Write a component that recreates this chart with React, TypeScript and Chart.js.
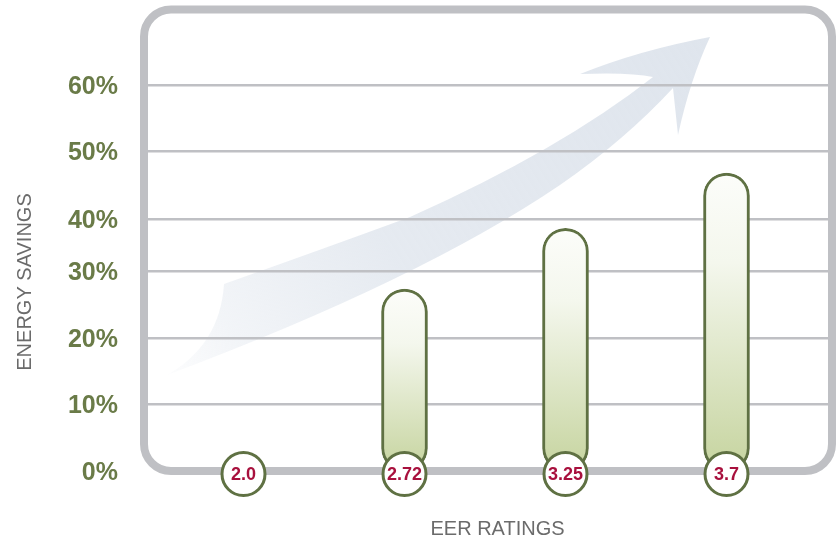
import React, { useEffect, useRef } from 'react';
import { Chart, registerables } from 'chart.js';

Chart.register(...registerables);

const categories = ['2.0', '2.72', '3.25', '3.7'];
const savings = [0, 27.3, 36.4, 44.7];
const tickValues = [0, 10, 20, 30, 37.8, 48, 57.9];
const tickLabels = ['0%', '10%', '20%', '30%', '40%', '50%', '60%'];
const xTitle = 'EER RATINGS';
const yTitle = 'ENERGY SAVINGS';

const FRAME = '#bfc0c4';
const OLIVE = '#5f7143';
const LABEL_GREEN = '#6a7b48';
const RED = '#a8103d';
const GRAY_TEXT = '#6b6b6b';
const FONT = '"Liberation Sans", Arial, sans-serif';

const decor = {
  id: 'decor',
  beforeDatasetsDraw(chart: any) {
    const { ctx, chartArea: ca, scales } = chart;
    const ys = scales.y;
    const P = (x: number, y: number): [number, number] => [ca.left + x, ca.top + y];
    ctx.save();
    // decorative arrow
    const a0 = P(4, 364);
    const a1 = P(547, 26);
    const grad = ctx.createLinearGradient(a0[0], a0[1], a1[0], a1[1]);
    grad.addColorStop(0, 'rgba(223,229,237,0.08)');
    grad.addColorStop(0.12, 'rgba(223,229,237,0.4)');
    grad.addColorStop(0.4, 'rgba(223,229,237,0.8)');
    grad.addColorStop(1, 'rgba(223,229,237,1)');
    ctx.fillStyle = grad;
    ctx.beginPath();
    ctx.moveTo(...a0);
    ctx.quadraticCurveTo(...P(257, 269), ...P(397, 174));
    ctx.quadraticCurveTo(...P(462, 129), ...P(510, 77));
    ctx.lineTo(...P(515, 124));
    ctx.quadraticCurveTo(...P(527, 69), ...P(547, 26));
    ctx.quadraticCurveTo(...P(477, 39), ...P(417, 63));
    ctx.quadraticCurveTo(...P(467, 61), ...P(490, 66));
    ctx.quadraticCurveTo(...P(397, 139), ...P(247, 206));
    ctx.quadraticCurveTo(...P(157, 239), ...P(61, 273));
    ctx.quadraticCurveTo(...P(57, 334), ...a0);
    ctx.closePath();
    ctx.fill();

    const fl = ca.left - 19;
    const fr = ca.right + 25;
    // grid lines
    ctx.strokeStyle = FRAME;
    ctx.lineWidth = 2.5;
    tickValues.forEach((v) => {
      if (v === 0) return;
      const y = Math.round(ys.getPixelForValue(v)) + 0.25;
      ctx.beginPath();
      ctx.moveTo(fl, y);
      ctx.lineTo(fr, y);
      ctx.stroke();
    });
    // frame
    ctx.lineWidth = 8;
    ctx.beginPath();
    const ft = ca.top - 1.5;
    const fb = ys.getPixelForValue(0);
    (ctx as any).roundRect(fl, ft, fr - fl, fb - ft, 27);
    ctx.stroke();
    ctx.restore();
  },
  afterDatasetsDraw(chart: any) {
    const { ctx, chartArea: ca, scales } = chart;
    const xs = scales.x;
    const ys = scales.y;
    ctx.save();
    const cy = ys.getPixelForValue(0) + 3;
    categories.forEach((c, i) => {
      const cx = xs.getPixelForValue(i);
      ctx.beginPath();
      ctx.arc(cx, cy, 21.5, 0, Math.PI * 2);
      ctx.fillStyle = '#ffffff';
      ctx.fill();
      ctx.lineWidth = 3;
      ctx.strokeStyle = OLIVE;
      ctx.stroke();
      ctx.fillStyle = RED;
      ctx.font = `bold 18px ${FONT}`;
      ctx.textAlign = 'center';
      ctx.textBaseline = 'middle';
      ctx.fillText(c, cx, cy + 1);
    });
    // axis titles
    ctx.fillStyle = GRAY_TEXT;
    ctx.font = `20px ${FONT}`;
    ctx.textAlign = 'center';
    ctx.textBaseline = 'middle';
    ctx.fillText(xTitle, ca.left + 334.5, ca.bottom + 58.5);
    ctx.save();
    ctx.translate(ca.left - 138, ca.top + 271);
    ctx.rotate(-Math.PI / 2);
    ctx.font = `20px ${FONT}`;
    ctx.fillText(yTitle, 0, 0);
    ctx.restore();
    ctx.restore();
  },
};

export default function App() {
  const ref = useRef<HTMLCanvasElement | null>(null);
  useEffect(() => {
    if (!ref.current) return;
    const chart = new Chart(ref.current, {
      type: 'bar',
      data: {
        labels: categories,
        datasets: [
          {
            data: savings,
            backgroundColor: (c: any) => {
              const ch = c.chart;
              const ca = ch.chartArea;
              if (!ca || c.type !== 'data') return '#e5ecd6';
              const ys = ch.scales.y;
              const top = ys.getPixelForValue(savings[c.dataIndex]);
              const bottom = ys.getPixelForValue(0);
              if (bottom - top < 1) return '#ffffff';
              const g = ch.ctx.createLinearGradient(0, top, 0, bottom);
              g.addColorStop(0, '#fcfdfa');
              g.addColorStop(0.3, '#f4f7ed');
              g.addColorStop(1, '#c6d49f');
              return g;
            },
            borderColor: OLIVE,
            borderWidth: 3,
            borderRadius: 23,
            borderSkipped: false,
            barThickness: 46,
          },
        ],
      },
      options: {
        animation: false,
        responsive: true,
        maintainAspectRatio: false,
        events: [],
        layout: { padding: { top: 11, right: 30, left: 0, bottom: 0 } },
        plugins: { legend: { display: false }, tooltip: { enabled: false } },
        scales: {
          x: {
            grid: { display: false },
            border: { display: false },
            ticks: { display: false },
            afterFit: (s: any) => {
              s.height = 72;
              s.paddingLeft = 0;
              s.paddingRight = 0;
            },
          },
          y: {
            min: 0,
            max: 69,
            grid: { display: false },
            border: { display: false },
            afterBuildTicks: (s: any) => {
              s.ticks = tickValues.map((v) => ({ value: v }));
            },
            afterFit: (s: any) => {
              s.width = 163;
              s.paddingTop = 0;
              s.paddingBottom = 0;
            },
            ticks: {
              autoSkip: false,
              padding: 37,
              labelOffset: 2,
              color: LABEL_GREEN,
              font: { family: FONT, size: 25, weight: 'bold' },
              callback: (_v: any, i: number) => tickLabels[i],
            },
          },
        },
      },
      plugins: [decor],
    } as any);
    return () => chart.destroy();
  }, []);
  return (
    <div style={{ position: 'fixed', left: 0, top: 0, width: 837, height: 543, background: '#ffffff' }}>
      <canvas ref={ref} />
    </div>
  );
}
